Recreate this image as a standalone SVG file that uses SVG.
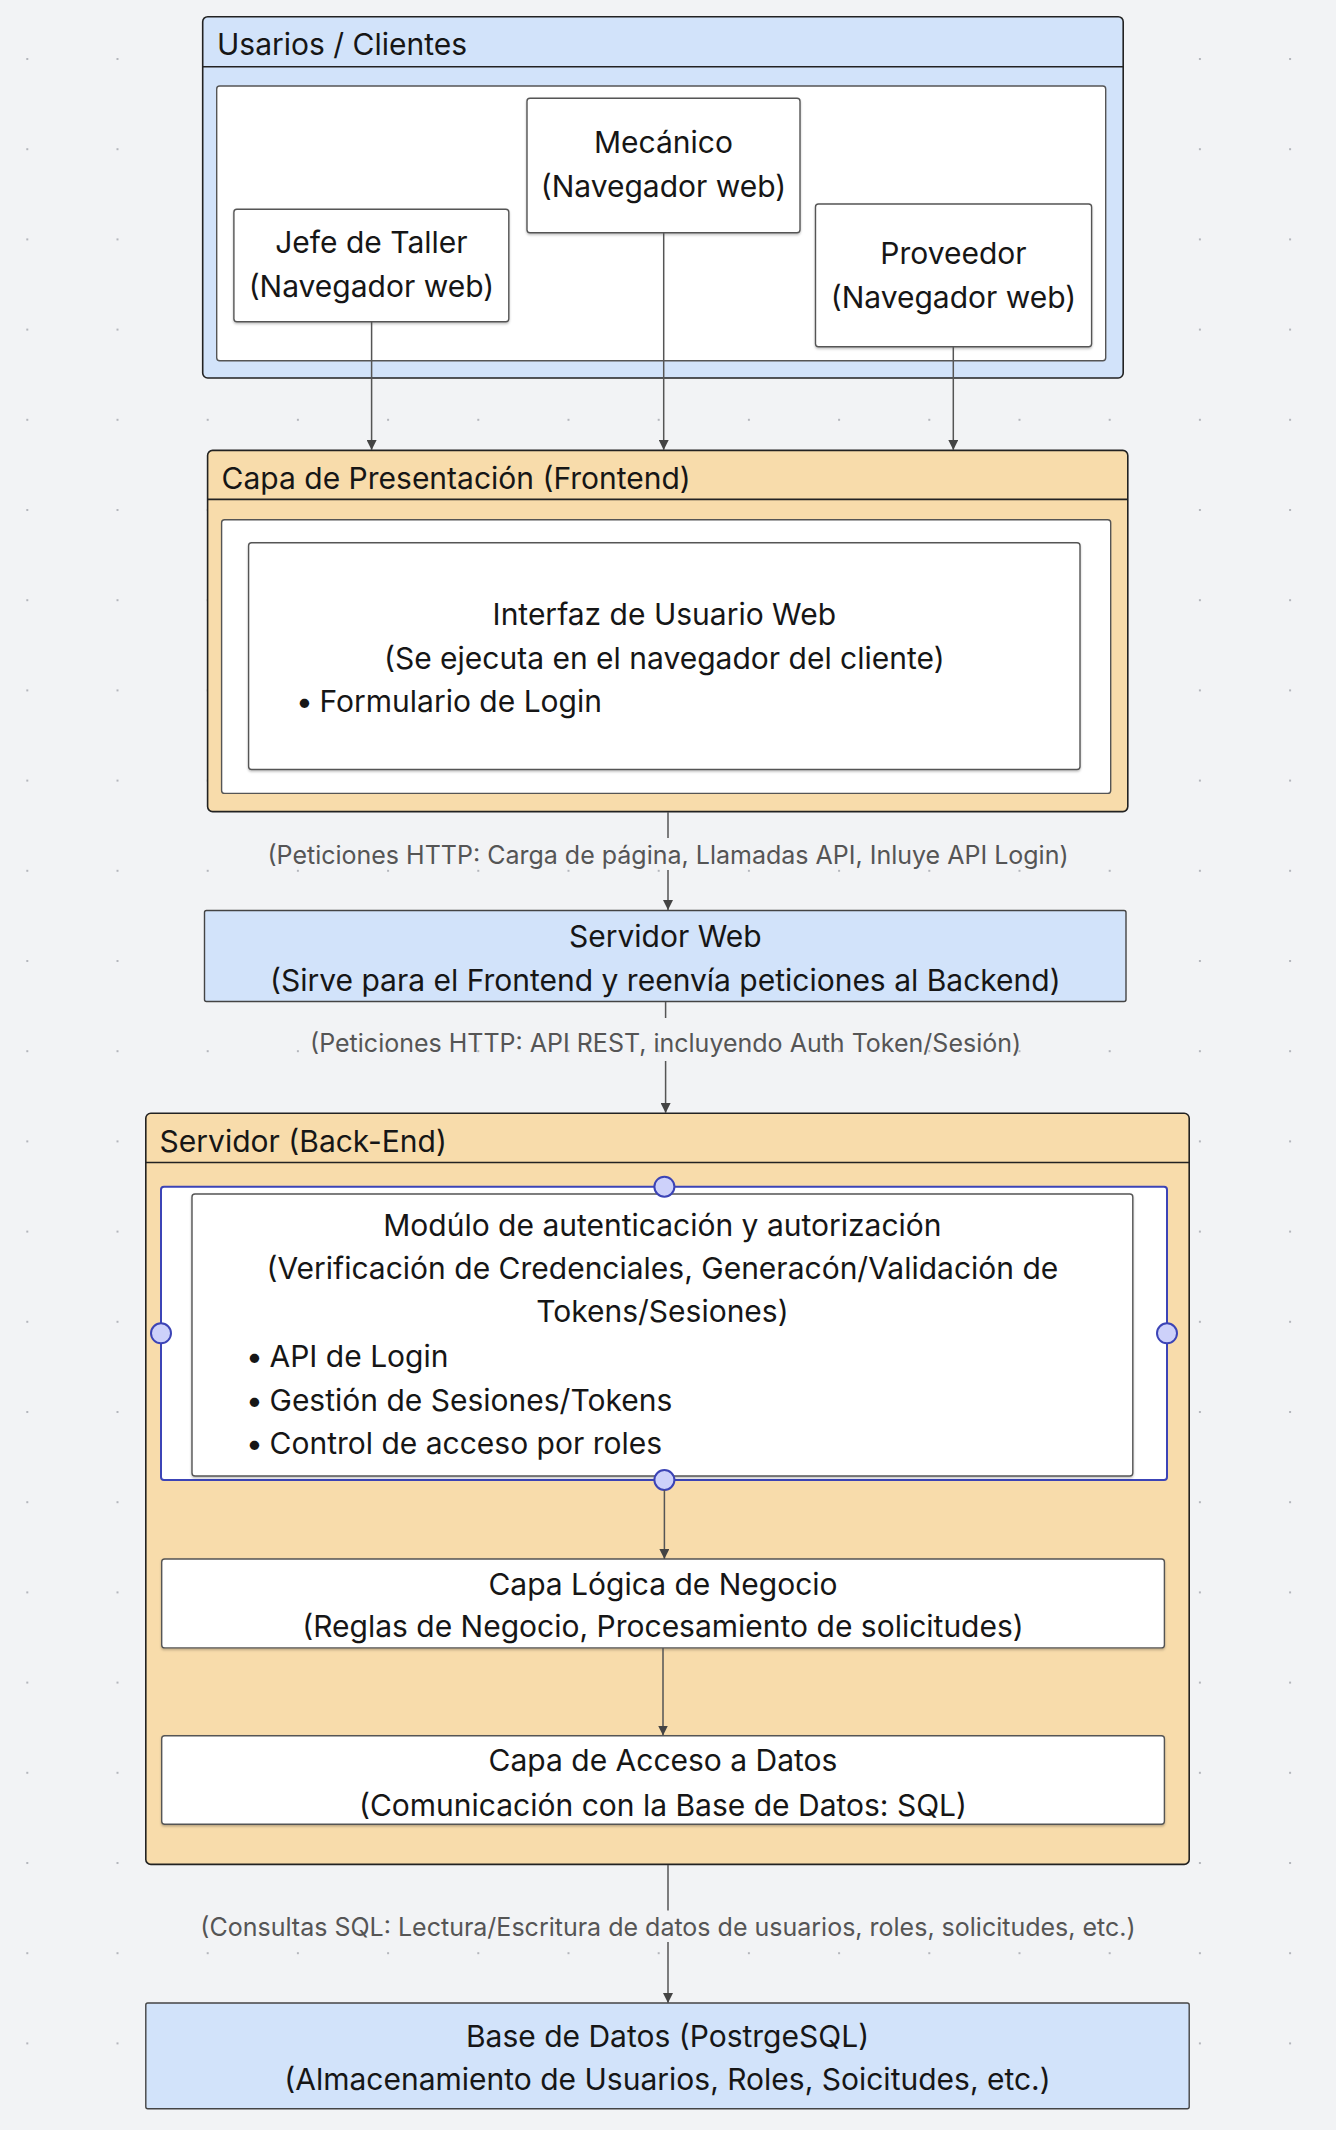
<svg xmlns="http://www.w3.org/2000/svg" width="1336" height="2130" viewBox="0 0 1336 2130">
<defs>
<pattern id="dots" x="26.3" y="58" width="90.2" height="90.2" patternUnits="userSpaceOnUse">
<rect x="0" y="0" width="2" height="2" fill="#b4b6bc"/>
</pattern>
<marker id="arr" viewBox="0 0 10 10" refX="10" refY="5" markerWidth="10" markerHeight="10" markerUnits="userSpaceOnUse" orient="auto">
<path d="M0,0 L10,5 L0,10 Z" fill="#444"/>
</marker>
<filter id="sh" x="-5%" y="-5%" width="110%" height="120%">
<feDropShadow dx="0" dy="1.5" stdDeviation="0.8" flood-color="#000" flood-opacity="0.25"/>
</filter>
</defs>
<style>
text{font-family:Inter,"Noto Sans","Liberation Sans",sans-serif;fill:#161616;}
.t{font-size:30px;}
.c{text-anchor:middle;}
.lbl{font-size:25px;fill:#555;text-anchor:middle;}
.blue{fill:#d2e3fa;stroke:#222;stroke-width:1.6;}
.orange{fill:#f8dcab;stroke:#222;stroke-width:1.6;}
.panel{fill:#fff;stroke:#555;stroke-width:1.4;}
.box{fill:#fff;stroke:#555;stroke-width:1.4;filter:url(#sh);}
.hdr{stroke:#222;stroke-width:1.6;}
.edge{stroke:#555;stroke-width:1.5;fill:none;marker-end:url(#arr);}
.seg{stroke:#555;stroke-width:1.5;fill:none;}
.sel{fill:#fff;stroke:#3c44b6;stroke-width:2;}
.hdl{fill:#cdd1fa;stroke:#3c44b6;stroke-width:2;}
</style>
<rect x="0" y="0" width="1336" height="2130" fill="#f2f3f5"/>
<rect x="0" y="0" width="1336" height="2130" fill="url(#dots)"/>

<g id="usuarios">
<rect class="blue" x="202.7" y="16.7" width="920.5" height="361.3" rx="5"/>
<line class="hdr" x1="202.7" y1="66.7" x2="1123.2" y2="66.7"/>
<text class="t" x="217" y="55">Usarios / Clientes</text>
<rect class="panel" x="216.7" y="86" width="889" height="274.7" rx="3"/>
</g>
<g id="jefe">
<rect class="box" x="233.9" y="209.3" width="274.9" height="112.4" rx="3"/>
<text class="t c" x="371.4" y="253">Jefe de Taller</text>
<text class="t c" x="371.4" y="297">(Navegador web)</text>
</g>
<g id="mecanico">
<rect class="box" x="527" y="98.3" width="273" height="134.4" rx="3"/>
<text class="t c" x="663.5" y="152.7">Mecánico</text>
<text class="t c" x="663.5" y="196.7">(Navegador web)</text>
</g>
<g id="proveedor">
<rect class="box" x="815.5" y="204" width="276.1" height="142.7" rx="3"/>
<text class="t c" x="953.5" y="264">Proveedor</text>
<text class="t c" x="953.5" y="308">(Navegador web)</text>
</g>

<g id="frontend">
<rect class="orange" x="207.6" y="450.4" width="920.2" height="361.2" rx="5"/>
<line class="hdr" x1="207.6" y1="499.4" x2="1127.8" y2="499.4"/>
<text class="t" x="221.6" y="488.5">Capa de Presentación (Frontend)</text>
<rect class="panel" x="221.6" y="519.8" width="889.1" height="273.6" rx="3"/>
</g>
<g id="interfaz">
<rect class="box" x="248.6" y="542.7" width="831.4" height="226.8" rx="3"/>
<text class="t c" x="664.3" y="625">Interfaz de Usuario Web</text>
<text class="t c" x="664.3" y="668.5">(Se ejecuta en el navegador del cliente)</text>
<text class="t" x="296" y="711.9">•<tspan x="319.5">Formulario de Login</tspan></text>
</g>

<g id="servidor-web">
<rect class="blue" x="204.5" y="910.5" width="921.5" height="91" rx="2" style="stroke:#444;stroke-width:1.4"/>
<text class="t c" x="665.3" y="946.5">Servidor Web</text>
<text class="t c" x="665.3" y="990.5">(Sirve para el Frontend y reenvía peticiones al Backend)</text>
</g>

<g id="backend">
<rect class="orange" x="145.8" y="1113.3" width="1043.4" height="751.1" rx="5"/>
<line class="hdr" x1="145.8" y1="1162.5" x2="1189.2" y2="1162.5"/>
<text class="t" x="159.6" y="1151.7">Servidor (Back-End)</text>
</g>
<g id="auth">
<rect class="sel" x="161" y="1186.7" width="1006" height="293.3" rx="3"/>
<rect class="box" x="192" y="1194" width="940.8" height="282" rx="3"/>
<text class="t c" x="662.4" y="1235.5">Modúlo de autenticación y autorización</text>
<text class="t c" x="662.4" y="1278.8">(Verificación de Credenciales, Generacón/Validación de</text>
<text class="t c" x="662.4" y="1322.2">Tokens/Sesiones)</text>
<text class="t" x="246" y="1367">•<tspan x="269.5">API de Login</tspan></text>
<text class="t" x="246" y="1410.5">•<tspan x="269.5">Gestión de Sesiones/Tokens</tspan></text>
<text class="t" x="246" y="1453.8">•<tspan x="269.5">Control de acceso por roles</tspan></text>
<circle class="hdl" cx="664.4" cy="1186.7" r="10"/>
<circle class="hdl" cx="161" cy="1333.3" r="10"/>
<circle class="hdl" cx="1167" cy="1333.3" r="10"/>
<circle class="hdl" cx="664.4" cy="1480" r="10"/>
</g>
<g id="logica">
<rect class="box" x="161.7" y="1559" width="1002.7" height="88.9" rx="3"/>
<text class="t c" x="663" y="1594.8">Capa Lógica de Negocio</text>
<text class="t c" x="663" y="1637">(Reglas de Negocio, Procesamiento de solicitudes)</text>
</g>
<g id="acceso">
<rect class="box" x="161.7" y="1735.8" width="1002.7" height="88.4" rx="3"/>
<text class="t c" x="663" y="1771.4">Capa de Acceso a Datos</text>
<text class="t c" x="663" y="1815.8">(Comunicación con la Base de Datos: SQL)</text>
</g>

<g id="db">
<rect class="blue" x="145.8" y="2003" width="1043.4" height="105.7" rx="2" style="stroke:#444;stroke-width:1.4"/>
<text class="t c" x="667.5" y="2046.8">Base de Datos (PostrgeSQL)</text>
<text class="t c" x="667.5" y="2090.2">(Almacenamiento de Usuarios, Roles, Soicitudes, etc.)</text>
</g>

<g id="connectors">
<line class="edge" x1="371.6" y1="321.7" x2="371.6" y2="450"/>
<line class="edge" x1="663.7" y1="232.7" x2="663.7" y2="450"/>
<line class="edge" x1="953.3" y1="346.7" x2="953.3" y2="450"/>
<line class="seg" x1="668" y1="812" x2="668" y2="838"/>
<line class="edge" x1="668" y1="870" x2="668" y2="910"/>
<text class="lbl" x="668" y="864">(Peticiones HTTP: Carga de página, Llamadas API, Inluye API Login)</text>
<line class="seg" x1="665.6" y1="1002" x2="665.6" y2="1018"/>
<line class="edge" x1="665.6" y1="1061" x2="665.6" y2="1113"/>
<text class="lbl" x="665.6" y="1052.4">(Peticiones HTTP: API REST, incluyendo Auth Token/Sesión)</text>
<line class="edge" x1="664.4" y1="1490" x2="664.4" y2="1559"/>
<line class="edge" x1="663" y1="1648" x2="663" y2="1735.5"/>
<line class="seg" x1="668" y1="1865" x2="668" y2="1910.6"/>
<line class="edge" x1="668" y1="1942" x2="668" y2="2003"/>
<text class="lbl" x="668" y="1936.4">(Consultas SQL: Lectura/Escritura de datos de usuarios, roles, solicitudes, etc.)</text>
</g>
</svg>
